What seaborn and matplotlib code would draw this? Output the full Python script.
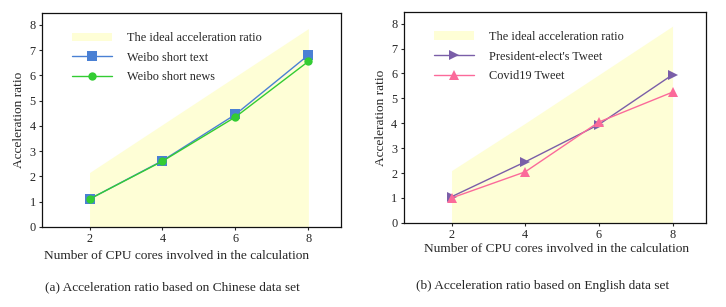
import matplotlib
matplotlib.use("Agg")
import matplotlib.pyplot as plt
from matplotlib.patches import Patch
import seaborn as sns
import pandas as pd

# data
cores = [2, 4, 6, 8]
ideal_cn = [2.15, 4.05, 5.95, 7.85]
weibo_text = [1.1, 2.62, 4.45, 6.8]
weibo_news = [1.1, 2.6, 4.35, 6.55]

ideal_en = [2.1, 4.0, 5.95, 7.9]
president_tweet = [1.05, 2.45, 3.95, 5.95]
covid_tweet = [1.0, 2.05, 4.05, 5.25]

yticks = [0, 1, 2, 3, 4, 5, 6, 7, 8]

sns.set_style("white")
plt.rcParams["font.family"] = ["Liberation Serif", "DejaVu Serif"]
plt.rcParams["font.size"] = 9

FILL = "#fefed6"


def draw_panel(ax, ideal, series, caption, cap_x, cap_y, xlab_x, xlab_y):
    df = pd.DataFrame({"cores": cores, "ideal": ideal})
    ax.fill_between(df["cores"], 0, df["ideal"], color=FILL, lw=0, zorder=0)
    handles = [Patch(facecolor=FILL, edgecolor="none", label="The ideal acceleration ratio")]
    for name, vals, color, marker, ms in series:
        d = pd.DataFrame({"cores": cores, "ratio": vals})
        sns.lineplot(data=d, x="cores", y="ratio", ax=ax, color=color, marker=marker,
                     markersize=ms, markeredgewidth=0, lw=1.0, label=name, zorder=3)
    h, l = ax.get_legend_handles_labels()
    handles += h
    ax.legend(handles=handles, loc="upper left", frameon=False, fontsize=8.8,
              handlelength=3.3, handletextpad=1.2, borderaxespad=0, borderpad=0,
              labelspacing=0.62, bbox_to_anchor=(0.1, 0.91))
    ax.set_xlim(0.7, 8.9)
    ax.set_ylim(0, 8.47)
    ax.set_xticks(cores)
    ax.set_yticks(yticks)
    ax.set_xlabel("Number of CPU cores involved in the calculation", fontsize=9.6)
    ax.xaxis.set_label_coords(xlab_x, xlab_y)
    ax.xaxis.label.set_va("top")
    ax.set_ylabel("Acceleration ratio", fontsize=9.6, labelpad=3)
    ax.tick_params(axis="both", direction="out", length=2.5, width=0.8, labelsize=8.8, pad=2,
                   left=True, bottom=True)
    for s in ax.spines.values():
        s.set_color("#111111")
        s.set_linewidth(0.9)
    ax.text(cap_x, cap_y, caption, transform=ax.transAxes, ha="center", va="center",
            fontsize=9.6)


fig = plt.figure(figsize=(7.26, 3.07), dpi=100)
ax1 = fig.add_axes([0.058, 0.261, 0.412, 0.697])
ax2 = fig.add_axes([0.556, 0.274, 0.416, 0.687])

draw_panel(ax1, ideal_cn,
           [("Weibo short text", weibo_text, "#4a80d4", "s", 6.8),
            ("Weibo short news", weibo_news, "#33cc33", "o", 6)],
           "(a) Acceleration ratio based on Chinese data set", 0.435, -0.28, 0.45, -0.11)
draw_panel(ax2, ideal_en,
           [("President-elect's Tweet", president_tweet, "#7a5ea8", ">", 7),
            ("Covid19 Tweet", covid_tweet, "#fb6a9a", "^", 7)],
           "(b) Acceleration ratio based on English data set", 0.46, -0.30, 0.505, -0.095)

fig.savefig("out.png", dpi=100)
